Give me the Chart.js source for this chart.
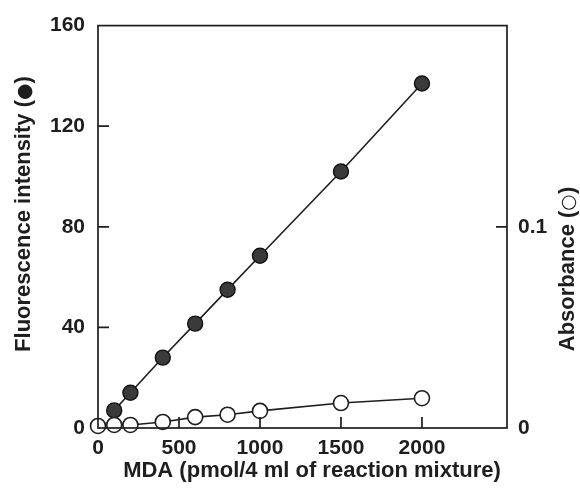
<!DOCTYPE html>
<html>
<head>
<meta charset="utf-8">
<script src="https://cdn.jsdelivr.net/npm/chart.js@4.4.1/dist/chart.umd.min.js"></script>
<style>
  html, body { margin: 0; padding: 0; background: #fff; }
  #wrap { width: 580px; height: 491px; }
</style>
</head>
<body>
<div id="wrap"><canvas id="c" width="580" height="491"></canvas></div>
<script>
// ---- data ----
const absX = [0, 100, 200, 400, 600, 800, 1000, 1500, 2000];
const absorbance = [0.001, 0.0015, 0.0015, 0.003, 0.0054, 0.0066, 0.0085, 0.0124, 0.0148];
const fluorX = [100, 200, 400, 600, 800, 1000, 1500, 2000];
const fluorescence = [7, 14, 28, 41.5, 55, 68.5, 102, 137];
const xTicks = [0, 500, 1000, 1500, 2000];
const yLeftTicks = [0, 40, 80, 120, 160];
const yRightTicks = [0, 0.1];
const xTitle = 'MDA (pmol/4 ml of reaction mixture)';
const yLeftTitle = ['Fluorescence intensity (', '\u25CF', ')'];
const yRightTitle = ['Absorbance (', '\u25CB', ')'];

const FONT = '"Liberation Sans", Arial, sans-serif';
const INK = '#1e1e1e';

function drawParts(ctx, parts, cx, cy) {
  const fonts = ['bold 22px ' + FONT, '19px "DejaVu Sans"', 'bold 22px ' + FONT];
  const widths = parts.map((t, i) => { ctx.font = fonts[i]; return ctx.measureText(t).width; });
  const total = widths.reduce((a, b) => a + b, 0);
  ctx.save();
  ctx.translate(cx, cy);
  ctx.rotate(-Math.PI / 2);
  let x = -total / 2;
  ctx.textAlign = 'left';
  ctx.textBaseline = 'alphabetic';
  parts.forEach((t, i) => {
    ctx.font = fonts[i];
    ctx.fillText(t, x, i === 1 ? 8 : 8);
    x += widths[i];
  });
  ctx.restore();
}

const framePlugin = {
  id: 'frame',
  afterDraw(chart) {
    const ctx = chart.ctx, a = chart.chartArea;
    const sx = chart.scales.x, yl = chart.scales.y, yr = chart.scales.y2;
    ctx.save();
    ctx.strokeStyle = INK;
    ctx.lineWidth = 1.7;
    ctx.strokeRect(a.left, a.top, a.right - a.left, a.bottom - a.top);
    const L = 11;
    ctx.beginPath();
    xTicks.forEach(v => { if (v > 0) { const p = sx.getPixelForValue(v); ctx.moveTo(p, a.bottom); ctx.lineTo(p, a.bottom - L); } });
    yLeftTicks.forEach(v => { if (v > 0 && v < 160) { const p = yl.getPixelForValue(v); ctx.moveTo(a.left, p); ctx.lineTo(a.left + L, p); } });
    yRightTicks.forEach(v => { if (v > 0) { const p = yr.getPixelForValue(v); ctx.moveTo(a.right, p); ctx.lineTo(a.right - L, p); } });
    ctx.stroke();
    ctx.fillStyle = INK;
    ctx.font = 'bold 22px ' + FONT;
    ctx.textAlign = 'center';
    ctx.textBaseline = 'middle';
    ctx.fillText(xTitle, 312, 471);
    drawParts(ctx, yLeftTitle, 22, 214);
    drawParts(ctx, yRightTitle, 566, 269);
    ctx.restore();
  }
};

const tickFont = { family: FONT, size: 21, weight: 'bold' };

new Chart(document.getElementById('c'), {
  type: 'scatter',
  data: {
    datasets: [
      {
        label: 'Absorbance',
        data: absX.map((x, i) => ({ x: x, y: absorbance[i] })),
        yAxisID: 'y2',
        showLine: true,
        borderColor: INK,
        borderWidth: 1.6,
        pointRadius: 7.5,
        pointBorderWidth: 1.6,
        pointBackgroundColor: '#ffffff',
        pointBorderColor: INK,
        clip: false
      },
      {
        label: 'Fluorescence',
        data: fluorX.map((x, i) => ({ x: x, y: fluorescence[i] })),
        yAxisID: 'y',
        showLine: true,
        borderColor: INK,
        borderWidth: 1.6,
        pointRadius: 7.5,
        pointBorderWidth: 1.4,
        pointBackgroundColor: '#3a3a3a',
        pointBorderColor: '#111',
        clip: false
      }
    ]
  },
  options: {
    responsive: false,
    animation: false,
    events: [],
    layout: { padding: { top: 24, left: 0, right: 0, bottom: 0 } },
    plugins: { legend: { display: false }, tooltip: { enabled: false } },
    scales: {
      x: {
        type: 'linear', min: 0, max: 2525,
        afterBuildTicks: s => { s.ticks = xTicks.map(v => ({ value: v })); },
        afterFit: s => { s.height = 63; },
        grid: { display: false, drawTicks: false },
        border: { display: false },
        ticks: { padding: 8, color: INK, font: tickFont, callback: v => String(v) }
      },
      y: {
        type: 'linear', position: 'left', min: 0, max: 160,
        afterBuildTicks: s => { s.ticks = yLeftTicks.map(v => ({ value: v })); },
        afterFit: s => { s.width = 98; },
        grid: { display: false, drawTicks: false },
        border: { display: false },
        ticks: { padding: 13, color: INK, font: tickFont, callback: v => String(v) }
      },
      y2: {
        type: 'linear', position: 'right', min: 0, max: 0.2,
        afterBuildTicks: s => { s.ticks = yRightTicks.map(v => ({ value: v })); },
        afterFit: s => { s.width = 73; },
        grid: { display: false, drawTicks: false },
        border: { display: false },
        ticks: { padding: 11, color: INK, font: tickFont, callback: v => String(v) }
      }
    }
  },
  plugins: [framePlugin]
});
</script>
</body>
</html>
